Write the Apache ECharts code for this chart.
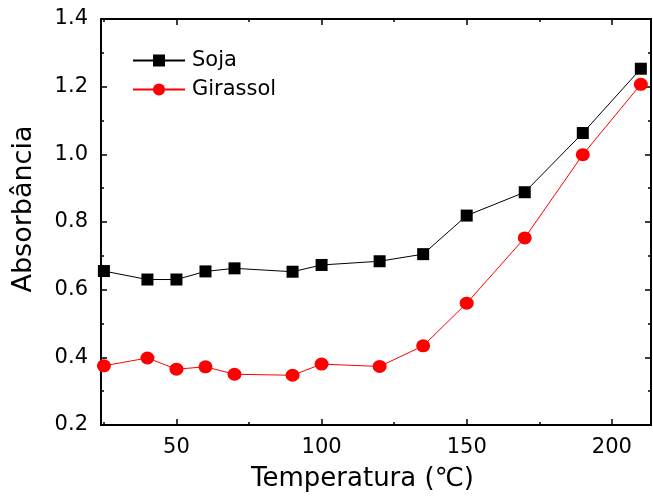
<!DOCTYPE html>
<html><head><meta charset="utf-8">
<script src="https://cdn.jsdelivr.net/npm/echarts@6/dist/echarts.min.js"></script>
<style>html,body{margin:0;padding:0;background:#fff}#c{width:653px;height:497px}</style>
</head><body><div id="c"></div>
<script>
const temps = [25, 40, 50, 60, 70, 90, 100, 120, 135, 150, 170, 190, 210];
const soja = [0.655, 0.630, 0.630, 0.654, 0.663, 0.653, 0.673, 0.684, 0.705, 0.819, 0.888, 1.063, 1.253];
const girassol = [0.375, 0.398, 0.365, 0.372, 0.350, 0.347, 0.380, 0.373, 0.434, 0.560, 0.753, 0.999, 1.207];
const xMajor = [50, 100, 150, 200];
const xMinor = [25, 75, 125, 175];
const seriesNames = ['Soja', 'Girassol'];

const FONT = 'DejaVu Sans, sans-serif';
const XMIN = 24, XMAX = 213.5;
function xa(pos, ticks, len, opts) {
  return Object.assign({
    type: 'value', position: pos, min: XMIN, max: XMAX, gridIndex: 0,
    splitLine: {show: false},
    axisLine: {show: false},
    axisTick: {show: true, inside: true, length: len, customValues: ticks, lineStyle: {color: '#000', width: 1.5}},
    axisLabel: {show: false, customValues: ticks}
  }, opts || {});
}
function ya(pos, opts) {
  return Object.assign({
    type: 'value', position: pos, min: 0.2, max: 1.4, interval: 0.2,
    splitLine: {show: false},
    axisLine: {show: true, lineStyle: {color: '#000', width: 2}},
    axisTick: {show: true, inside: true, length: 6, lineStyle: {color: '#000', width: 1.5}},
    minorTick: {show: true, splitNumber: 2, length: 3, lineStyle: {color: '#000', width: 1.5}},
    axisLabel: {show: false}
  }, opts || {});
}
const chart = echarts.init(document.getElementById('c'));
chart.setOption({
  animation: false,
  backgroundColor: '#fff',
  grid: {left: 101, top: 19, right: 2, bottom: 71, containLabel: false},
  legend: {
    orient: 'vertical', left: 127, top: 45, itemGap: 8, itemWidth: 52, itemHeight: 15,
    data: seriesNames,
    textStyle: {fontFamily: FONT, fontSize: 21, color: '#000', padding: [0, 0, 0, 2]}
  },
  xAxis: [
    xa('bottom', xMajor, 6, {
      axisLine: {show: true, lineStyle: {color: '#000', width: 2}},
      axisLabel: {show: true, customValues: xMajor, color: '#000', fontFamily: FONT, fontSize: 21, margin: 12},
      name: 'Temperatura (℃)', nameLocation: 'middle', nameGap: 41,
      nameTextStyle: {fontFamily: FONT, fontSize: 26, color: '#000', padding: [0, 27, 0, 0]}
    }),
    xa('bottom', xMinor, 3),
    xa('top', xMajor, 6, {axisLine: {show: true, lineStyle: {color: '#000', width: 2}}}),
    xa('top', xMinor, 3)
  ],
  yAxis: [
    ya('left', {
      axisLabel: {show: true, color: '#000', fontFamily: FONT, fontSize: 21, margin: 13,
        formatter: v => v.toFixed(1)},
      name: 'Absorbância', nameLocation: 'middle', nameGap: 64,
      nameTextStyle: {fontFamily: FONT, fontSize: 27, color: '#000', padding: [0, 0, 0, 26]}
    }),
    ya('right')
  ],
  series: [
    {name: seriesNames[0], type: 'line', data: temps.map((t, i) => [t, soja[i]]),
     symbol: 'rect', symbolSize: 12, color: '#000',
     lineStyle: {color: '#000', width: 1}, itemStyle: {color: '#000'}},
    {name: seriesNames[1], type: 'line', data: temps.map((t, i) => [t, girassol[i]]),
     symbol: 'circle', symbolSize: [14, 13], color: '#ff0000',
     lineStyle: {color: '#ff0000', width: 1}, itemStyle: {color: '#ff0000'}}
  ]
});
</script></body></html>
